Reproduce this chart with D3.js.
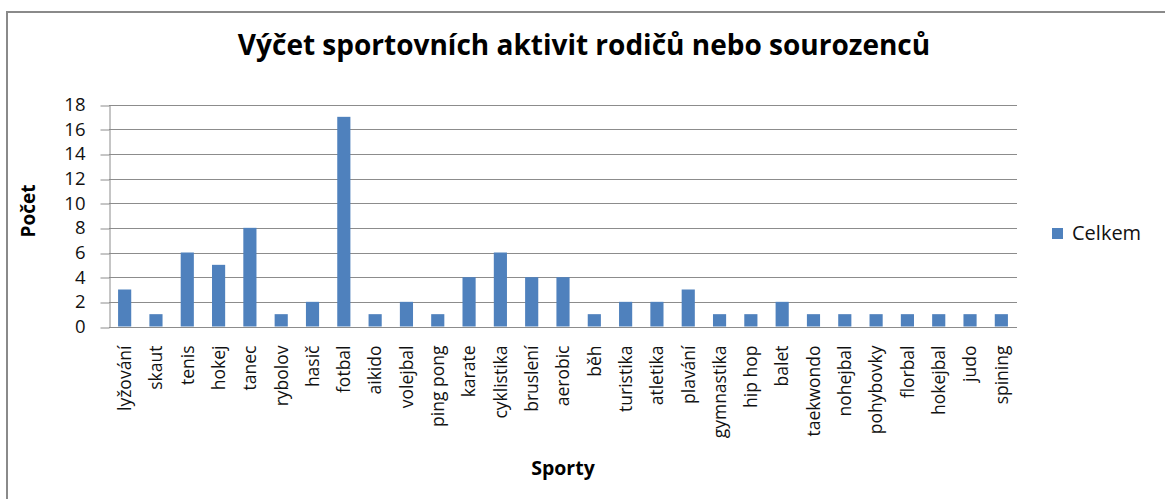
<!DOCTYPE html>
<html>
<head>
<meta charset="utf-8">
<script src="https://cdn.jsdelivr.net/npm/d3@7"></script>
<style>
  html, body { margin: 0; padding: 0; background: #fff; }
  svg { display: block; font-family: "Open Sans", "DejaVu Sans", sans-serif; }
</style>
</head>
<body>
<svg id="chart" width="1165" height="499"></svg>
<script>
// Sports named by respondents and how many times each appeared
const categories = ["lyžování", "skaut", "tenis", "hokej", "tanec", "rybolov", "hasič", "fotbal",
  "aikido", "volejbal", "ping pong", "karate", "cyklistika", "bruslení", "aerobic", "běh",
  "turistika", "atletika", "plavání", "gymnastika", "hip hop", "balet", "taekwondo", "nohejbal",
  "pohybovky", "florbal", "hokejbal", "judo", "spining"];
const celkem = [3, 1, 6, 5, 8, 1, 2, 17, 1, 2, 1, 4, 6, 4, 4, 1, 2, 2, 3, 1, 1, 2, 1, 1, 1, 1, 1, 1, 1];
const yTicks = [0, 2, 4, 6, 8, 10, 12, 14, 16, 18];
const seriesName = "Celkem";
const titleText = "Výčet sportovních aktivit rodičů nebo sourozenců";
const xTitle = "Sporty";
const yTitle = "Počet";

const svg = d3.select("#chart");
const plot = { left: 109, right: 1017, top: 104.5, bottom: 326.5 };
const barColor = "#4F81BD";
const gridColor = "#8c8c8c";
const textColor = "#111";

// outer chart frame
svg.append("rect")
  .attr("x", 7).attr("y", 12)
  .attr("width", 1200).attr("height", 520)
  .attr("fill", "none").attr("stroke", "#8a8a8a").attr("stroke-width", 2);

const x = d3.scaleBand().domain(categories).range([plot.left, plot.right]).paddingInner(0.58).paddingOuter(0.29);
const y = d3.scaleLinear().domain([0, 18]).range([plot.bottom, plot.top]);

// horizontal gridlines
svg.append("g").selectAll("line").data(yTicks.filter(d => d > 0)).join("line")
  .attr("x1", plot.left).attr("x2", plot.right)
  .attr("y1", d => Math.round(y(d)) + 0.5).attr("y2", d => Math.round(y(d)) + 0.5)
  .attr("stroke", gridColor).attr("stroke-width", 1);

// bars
svg.append("g").selectAll("rect").data(categories).join("rect")
  .attr("x", d => x(d))
  .attr("width", x.bandwidth())
  .attr("y", (d, i) => y(celkem[i]))
  .attr("height", (d, i) => y(0) - y(celkem[i]))
  .attr("fill", barColor);

// y axis
const yAxis = svg.append("g")
  .attr("transform", `translate(${plot.left + 0.5},0)`)
  .call(d3.axisLeft(y).tickValues(yTicks).tickSize(9).tickPadding(15).tickSizeOuter(0));
yAxis.select(".domain").attr("stroke", gridColor);
yAxis.selectAll(".tick line").attr("stroke", gridColor)
  .attr("transform", d => `translate(0,${Math.round(y(d)) + 0.5 - y(d)})`);
yAxis.selectAll(".tick text")
  .attr("fill", textColor).style("font-size", "18.5px").style("font-family", "'Open Sans', sans-serif");

// x axis baseline with rotated category names
const xAxis = svg.append("g")
  .attr("transform", `translate(0,${Math.round(plot.bottom) + 0.5})`)
  .call(d3.axisBottom(x).tickSize(0).tickPadding(0));
xAxis.select(".domain").attr("stroke", gridColor).attr("d", `M${plot.left},0H${plot.right}`);
xAxis.selectAll(".tick text")
  .attr("transform", "rotate(-90)")
  .attr("text-anchor", "end")
  .attr("x", -18).attr("y", 0).attr("dy", "0.36em")
  .attr("fill", textColor)
  .style("font-size", "17.5px").style("font-family", "'Open Sans', sans-serif");

// chart title
svg.append("text")
  .attr("x", 584).attr("y", 55)
  .attr("text-anchor", "middle")
  .style("font-size", "28px").style("font-weight", "bold")
  .attr("fill", "#000")
  .text(titleText);

// axis titles
svg.append("text")
  .attr("x", 563).attr("y", 475)
  .attr("text-anchor", "middle")
  .style("font-size", "19.5px").style("font-weight", "bold")
  .attr("fill", "#000")
  .text(xTitle);

svg.append("text")
  .attr("transform", "translate(35,211) rotate(-90)")
  .attr("text-anchor", "middle")
  .style("font-size", "19px").style("font-weight", "bold")
  .attr("fill", "#000")
  .text(yTitle);

// legend
const legend = svg.append("g").attr("transform", "translate(1052,228)");
legend.append("rect").attr("width", 11).attr("height", 11).attr("fill", barColor);
legend.append("text").attr("x", 20).attr("y", 12)
  .style("font-size", "20px").attr("fill", textColor).text(seriesName);
</script>
</body>
</html>
